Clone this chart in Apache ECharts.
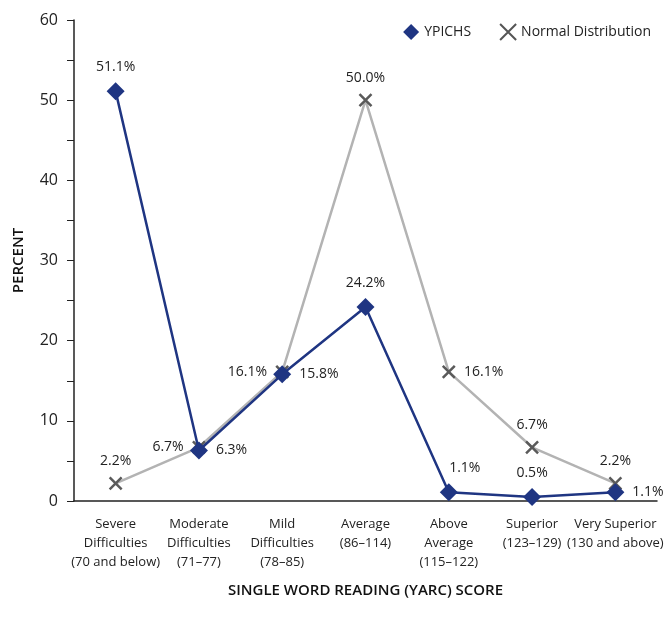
<!DOCTYPE html>
<html>
<head>
<meta charset="utf-8">
<script src="https://cdn.jsdelivr.net/npm/echarts@6/dist/echarts.min.js"></script>
<style>
  html, body { margin: 0; padding: 0; background: #fff; }
  #main { width: 668px; height: 623px; }
</style>
</head>
<body>
<div id="main"></div>
<script>
var categories = [
    'Severe\nDifficulties\n(70 and below)',
    'Moderate\nDifficulties\n(71–77)',
    'Mild\nDifficulties\n(78–85)',
    'Average\n(86–114)',
    'Above\nAverage\n(115–122)',
    'Superior\n(123–129)',
    'Very Superior\n(130 and above)'
];
var ypichs = [51.1, 6.3, 15.8, 24.2, 1.1, 0.5, 1.1];
var normal = [2.2, 6.7, 16.1, 50.0, 16.1, 6.7, 2.2];
// where each data label sits
var ypichsPos = ['top', 'right', 'right', 'top', 'top', 'top', 'right'];
var normalPos = ['top', 'left', 'left', 'top', 'right', 'top', 'top'];

var navy = '#1f3582';
var grey = '#b3b3b3';
var font = 'Open Sans';

function withLabels(values, pos, offsets) {
    return values.map(function (v, i) {
        var lbl = { position: pos[i] };
        if (offsets && offsets[i]) lbl.offset = offsets[i];
        return { value: v, label: lbl };
    });
}

var myChart = echarts.init(document.getElementById('main'));

var option = {
    animation: false,
    textStyle: { fontFamily: font, color: '#222' },
    legend: {
        right: 12,
        top: 18,
        itemGap: 28,
        itemWidth: 16,
        itemHeight: 16,
        textStyle: { fontSize: 14, color: '#222', fontFamily: font },
        data: [
            { name: 'YPICHS', icon: 'diamond', itemStyle: { color: navy } },
            { name: 'Normal Distribution', icon: 'path://M2,2 L14,14 M14,2 L2,14', itemStyle: { color: '#fff', borderColor: '#555', borderWidth: 2 } }
        ]
    },
    grid: {
        left: 74,
        right: 11,
        top: 20,
        bottom: 122
    },
    xAxis: {
        type: 'category',
        data: categories,
        name: 'SINGLE WORD READING (YARC) SCORE',
        nameLocation: 'middle',
        nameGap: 82,
        nameTextStyle: { fontSize: 15, fontWeight: 600, color: '#111', fontFamily: font },
        axisLine: { lineStyle: { color: '#222', width: 1.5 } },
        axisTick: { inside: true, length: 7, lineStyle: { color: '#222' } },
        axisLabel: { fontSize: 13, color: '#222', lineHeight: 19, margin: 14, interval: 0 }
    },
    yAxis: {
        type: 'value',
        min: 0,
        max: 60,
        interval: 10,
        name: 'PERCENT',
        nameLocation: 'middle',
        nameGap: 48,
        nameTextStyle: { fontSize: 15, fontWeight: 600, color: '#111', fontFamily: font },
        axisLine: { show: true, lineStyle: { color: '#222', width: 1.5 } },
        axisTick: { show: true, length: 7, lineStyle: { color: '#222' } },
        minorTick: { show: true, splitNumber: 2, length: 7, lineStyle: { color: '#222' } },
        splitLine: { show: false },
        axisLabel: { fontSize: 16, color: '#222', margin: 16 }
    },
    series: [
        {
            name: 'Normal Distribution',
            type: 'line',
            data: withLabels(normal, normalPos),
            symbol: 'path://M2,2 L14,14 M14,2 L2,14',
            symbolSize: 12,
            lineStyle: { color: grey, width: 2.5 },
            itemStyle: { color: '#fff', borderColor: '#5a5a5a', borderWidth: 2.5 },
            label: {
                show: true,
                fontSize: 14,
                color: '#222',
                distance: 8,
                formatter: function (p) { return p.value.toFixed(1) + '%'; }
            },
            z: 2
        },
        {
            name: 'YPICHS',
            type: 'line',
            data: withLabels(ypichs, ypichsPos, [null, null, null, null, [16, 0], null, null]),
            symbol: 'diamond',
            symbolSize: 18,
            lineStyle: { color: navy, width: 2.5 },
            itemStyle: { color: navy },
            label: {
                show: true,
                fontSize: 14,
                color: '#222',
                distance: 8,
                formatter: function (p) { return p.value.toFixed(1) + '%'; }
            },
            z: 3
        }
    ]
};

myChart.setOption(option);
</script>
</body>
</html>
